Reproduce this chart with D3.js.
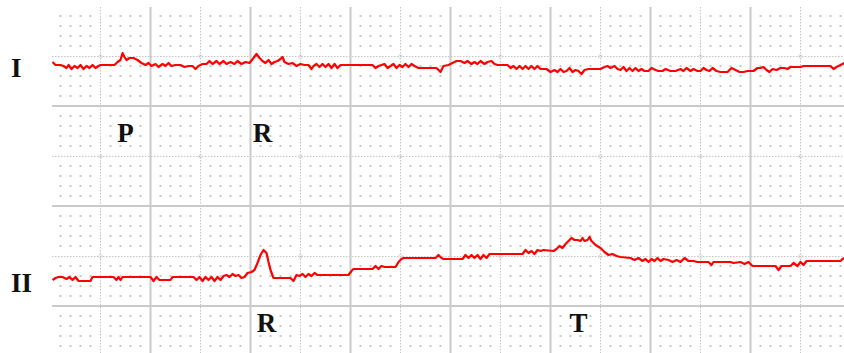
<!DOCTYPE html>
<html>
<head>
<meta charset="utf-8">
<script src="https://cdn.jsdelivr.net/npm/d3@7"></script>
<style>
  body { margin: 0; background: #fff; }
  #chart { width: 844px; height: 353px; }
</style>
</head>
<body>
<div id="chart"></div>
<script>
// Lead samples: [time ms, amplitude µV]
const leadI = [
  [8, 30], [20, 0], [40, 0], [52, -10], [64, -30], [72, 0], [84, -40], [96, -10], [108, -30],
  [120, 0], [132, -40], [144, -10], [156, -30], [168, 0], [180, -30], [192, -10], [200, 0],
  [256, 0], [268, 30], [280, 50], [288, 120], [296, 80], [304, 50], [316, 70], [332, 70],
  [348, 50], [364, 20], [380, 0], [392, 20], [404, -10], [420, 10], [432, -20], [448, 10],
  [460, -10], [472, 20], [484, -10], [500, 0], [520, 0], [536, -20], [552, -10], [568, -10],
  [580, -40], [592, -10], [608, 10], [624, 10], [636, 40], [648, 10], [664, 40], [676, 10],
  [692, 40], [704, 10], [720, 30], [736, 10], [748, 40], [764, 10], [780, 30], [796, 20],
  [812, 70], [824, 110], [836, 70], [848, 40], [860, 20], [872, 50], [884, 10], [896, 30],
  [908, 40], [920, 60], [928, 80], [936, 30], [952, 10], [968, 20], [984, -10], [1000, 10],
  [1016, 0], [1032, 0], [1044, -40], [1052, -10], [1064, 10], [1076, -20], [1088, 10],
  [1100, -20], [1112, 10], [1124, -30], [1136, 10], [1148, -30], [1160, 0], [1288, 0],
  [1300, -30], [1312, -10], [1324, 0], [1336, 10], [1348, -30], [1360, -10], [1372, 10],
  [1384, -30], [1396, 0], [1408, -20], [1420, 10], [1432, -20], [1444, 10], [1456, -10],
  [1472, -30], [1544, -30], [1560, -70], [1572, -10], [1592, 0], [1608, 20], [1624, 40],
  [1640, 40], [1656, 20], [1668, 40], [1684, 10], [1696, 30], [1708, 10], [1720, 40],
  [1736, 10], [1748, 30], [1764, 40], [1776, 10], [1788, 0], [1828, 0], [1840, -30],
  [1852, -10], [1864, -40], [1876, -10], [1888, -40], [1900, -10], [1912, -40], [1924, -10],
  [1936, -40], [1948, -10], [1960, -40], [1984, -40], [2000, -70], [2016, -50], [2028, -70],
  [2040, -40], [2052, -70], [2064, -60], [2076, -30], [2088, -70], [2100, -50], [2112, -60],
  [2124, -90], [2136, -50], [2152, -40], [2200, -40], [2216, -20], [2228, -10], [2240, -30],
  [2256, -10], [2268, -40], [2280, -50], [2292, -20], [2304, -60], [2316, -30], [2328, -60],
  [2340, -30], [2352, -60], [2364, -40], [2376, -60], [2392, -60], [2404, -30], [2420, -50],
  [2432, -60], [2448, -60], [2460, -40], [2480, -60], [2500, -60], [2520, -40], [2532, -60],
  [2544, -30], [2560, -60], [2572, -40], [2588, -60], [2600, -60], [2612, -30], [2624, -50],
  [2636, -60], [2648, -30], [2664, -60], [2680, -70], [2708, -70], [2724, -30], [2740, -50],
  [2756, -70], [2772, -70], [2788, -60], [2812, -60], [2828, -30], [2840, -30], [2852, -20],
  [2864, -50], [2876, -70], [2888, -40], [2904, -50], [2920, -30], [2936, -30], [2948, -40],
  [2960, -20], [3000, -20], [3012, -10], [3120, -10], [3132, -40], [3144, -20], [3160, 0],
  [3176, 20]
];

const leadII = [
  [8, 0], [20, 20], [32, 30], [48, 30], [64, 10], [76, 30], [88, 0], [100, 30], [112, -10],
  [160, -10], [168, 30], [252, 30], [264, 0], [272, 30], [280, 0], [288, 30], [400, 30],
  [412, -10], [424, 30], [436, 0], [480, 0], [488, 30], [572, 30], [584, 0], [596, 30],
  [608, -10], [620, 30], [632, 0], [644, 30], [656, -10], [668, 30], [680, 0], [692, 40],
  [704, 50], [716, 30], [728, 60], [740, 40], [752, 50], [764, 20], [776, 30], [788, 70],
  [804, 80], [816, 100], [828, 170], [840, 250], [852, 300], [864, 270], [872, 180],
  [880, 100], [892, 20], [960, 20], [972, -10], [984, 50], [996, 40], [1008, 60], [1020, 30],
  [1032, 60], [1044, 40], [1056, 70], [1068, 50], [1080, 50], [1192, 50], [1204, 90],
  [1212, 110], [1288, 110], [1300, 140], [1312, 110], [1324, 140], [1336, 130], [1380, 130],
  [1392, 180], [1404, 210], [1412, 220], [1540, 220], [1552, 250], [1564, 220], [1572, 210],
  [1648, 210], [1660, 250], [1672, 220], [1684, 250], [1696, 220], [1708, 250], [1720, 210],
  [1732, 250], [1744, 220], [1756, 260], [1768, 260], [1888, 260], [1900, 300], [1912, 270],
  [1924, 290], [1936, 260], [1948, 300], [1960, 290], [1972, 300], [2012, 290], [2024, 310],
  [2036, 340], [2048, 320], [2060, 360], [2072, 390], [2084, 420], [2096, 400], [2108, 400],
  [2120, 390], [2128, 420], [2136, 390], [2148, 400], [2156, 430], [2164, 390], [2180, 350],
  [2200, 320], [2216, 280], [2232, 250], [2248, 260], [2264, 240], [2280, 230], [2320, 220],
  [2336, 200], [2352, 220], [2368, 190], [2380, 210], [2392, 180], [2404, 210], [2416, 190],
  [2428, 220], [2440, 190], [2452, 210], [2472, 200], [2488, 180], [2504, 200], [2520, 180],
  [2536, 220], [2552, 190], [2572, 190], [2588, 180], [2600, 180], [2632, 180], [2644, 150],
  [2652, 180], [2720, 180], [2732, 170], [2760, 180], [2776, 160], [2792, 180], [2808, 140],
  [2880, 140], [2900, 140], [2912, 100], [2924, 140], [2960, 140], [2972, 170], [2988, 140],
  [3000, 180], [3012, 150], [3024, 190], [3160, 190], [3168, 210], [3176, 220]
];

const leadNames = ["I", "II"];
const leadSeries = [leadI, leadII];

// wave annotations: [lead index, label, time ms]
const waveLabels = [
  [0, "P", 300],
  [0, "R", 848],
  [1, "R", 864],
  [1, "T", 2112]
];

const width = 844, height = 353;
const leadBaseline = [65, 280];
const labelBaseline = [142, 332];

const svg = d3.select("#chart")
  .append("svg")
  .attr("width", width)
  .attr("height", height);

// paper grid in mm (10 px per mm)
const gx = d3.scaleLinear().domain([5, 85]).range([50.5, 850.5]);
const gy = d3.scaleLinear().domain([0, 35]).range([6, 356]);
const gridLeft = 52, gridTop = 7;

const grid = svg.append("g");

// small dots
const dotCols = d3.range(6, 85).filter(m => m % 5 !== 0);
const dotRows = d3.range(1, 35).filter(m => m % 5 !== 0);
dotRows.forEach(r => {
  grid.selectAll(null)
    .data(dotCols)
    .enter()
    .append("rect")
    .attr("x", d => gx(d) - 1)
    .attr("y", gy(r) - 1)
    .attr("width", 2)
    .attr("height", 2)
    .attr("fill", "#c8c8c8");
});

// dotted half lines
const vDotted = d3.range(10, 85, 10);
const hDotted = [5, 15, 25];

grid.selectAll(".vdot")
  .data(vDotted)
  .enter()
  .append("line")
  .attr("x1", d => gx(d)).attr("x2", d => gx(d))
  .attr("y1", gridTop).attr("y2", height)
  .attr("stroke", "#c4c4c4")
  .attr("stroke-dasharray", "1.5,1.5");

grid.selectAll(".hdot")
  .data(hDotted)
  .enter()
  .append("line")
  .attr("x1", gridLeft).attr("x2", width)
  .attr("y1", d => gy(d) + 0.5).attr("y2", d => gy(d) + 0.5)
  .attr("stroke", "#c4c4c4")
  .attr("stroke-dasharray", "1.5,1.5");

// little rings where dotted lines cross
hDotted.forEach(r => {
  grid.selectAll(null)
    .data(vDotted)
    .enter()
    .append("circle")
    .attr("cx", d => gx(d))
    .attr("cy", gy(r) + 0.5)
    .attr("r", 1.8)
    .attr("fill", "none")
    .attr("stroke", "#d0d0d0")
    .attr("stroke-width", 0.8);
});

// solid lines
grid.selectAll(".vsolid")
  .data(d3.range(15, 85, 10))
  .enter()
  .append("line")
  .attr("x1", d => gx(d)).attr("x2", d => gx(d))
  .attr("y1", gridTop).attr("y2", height)
  .attr("stroke", "#cacaca")
  .attr("stroke-width", 2);

grid.selectAll(".hsolid")
  .data([10, 20, 30])
  .enter()
  .append("line")
  .attr("x1", gridLeft).attr("x2", width)
  .attr("y1", d => gy(d)).attr("y2", d => gy(d))
  .attr("stroke", "#cacaca")
  .attr("stroke-width", 2);

// time scale: 25 mm/s, 40 ms per mm
const xScale = d3.scaleLinear()
  .domain([0, 3200])
  .range([gx(5), gx(85)]);

// gain: 10 mm/mV, amplitude in µV
const yScale = d3.scaleLinear()
  .domain([0, 1000])
  .range([0, -100]);

const line = d3.line()
  .x(d => xScale(d[0]))
  .y(d => yScale(d[1]));

leadSeries.forEach((series, i) => {
  svg.append("path")
    .datum(series)
    .attr("transform", `translate(0,${leadBaseline[i]})`)
    .attr("fill", "none")
    .attr("stroke", "#ff0000")
    .attr("stroke-width", 2.2)
    .attr("stroke-linejoin", "round")
    .attr("d", line);
});

const font = "'Liberation Serif', 'Times New Roman', serif";

svg.selectAll(".lead-name")
  .data(leadNames)
  .enter()
  .append("text")
  .attr("x", 11)
  .attr("y", (d, i) => leadBaseline[i] + 12)
  .attr("font-family", font)
  .attr("font-weight", "bold")
  .attr("font-size", 27)
  .attr("fill", "#111")
  .text(d => d);

svg.selectAll(".wave-label")
  .data(waveLabels)
  .enter()
  .append("text")
  .attr("x", d => xScale(d[2]))
  .attr("y", d => labelBaseline[d[0]])
  .attr("text-anchor", "middle")
  .attr("font-family", font)
  .attr("font-weight", "bold")
  .attr("font-size", 27)
  .attr("fill", "#111")
  .text(d => d[1]);
</script>
</body>
</html>
